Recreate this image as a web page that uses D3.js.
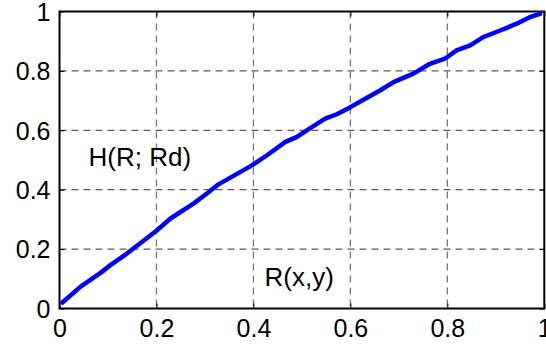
<!DOCTYPE html>
<html><head><meta charset="utf-8">
<script src="https://cdn.jsdelivr.net/npm/d3@7"></script>
<style>html,body{margin:0;padding:0;background:#fff;overflow:hidden}</style>
</head><body>
<script>
const xVals = [0.006,0.043,0.0845,0.105,0.139,0.170,0.200,0.229,0.277,0.304,0.328,0.397,0.428,0.466,0.490,0.510,0.548,0.572,0.600,0.627,0.661,0.689,0.730,0.764,0.795,0.819,0.847,0.874,0.909,0.943,0.970,0.991];
const yVals = [0.020,0.073,0.120,0.146,0.185,0.224,0.262,0.303,0.354,0.387,0.418,0.482,0.516,0.561,0.578,0.600,0.639,0.654,0.678,0.703,0.734,0.762,0.791,0.824,0.841,0.869,0.886,0.914,0.936,0.959,0.981,0.992];
const xTicks = [0,0.2,0.4,0.6,0.8,1];
const yTicks = [0,0.2,0.4,0.6,0.8,1];
const xTickLabels = ["0","0.2","0.4","0.6","0.8","1"];
const yTickLabels = ["0","0.2","0.4","0.6","0.8","1"];
const annotations = [{text:"H(R; Rd)", x:0.06, y:0.48},{text:"R(x,y)", x:0.423, y:0.075}];

const W=546,H=349;
const L=59.5,R=544.3,T=11.5,B=308.5;
const svg=d3.select("body").append("svg").attr("width",W).attr("height",H);
const x=d3.scaleLinear().domain([0,1]).range([L,R]);
const y=d3.scaleLinear().domain([0,1]).range([B,T]);
const font="Liberation Sans, Arial, Helvetica, sans-serif";

// grid
svg.append("g").selectAll("line").data(xTicks.slice(1,-1)).join("line")
 .attr("x1",d=>x(d)).attr("x2",d=>x(d)).attr("y1",T).attr("y2",B)
 .attr("stroke","#777").attr("stroke-width",1.3).attr("stroke-dasharray","7,5");
svg.append("g").selectAll("line").data(yTicks.slice(1,-1)).join("line")
 .attr("x1",L).attr("x2",R).attr("y1",d=>y(d)).attr("y2",d=>y(d))
 .attr("stroke","#333").attr("stroke-width",1).attr("stroke-dasharray","7,5");

// axes with inward ticks
const xa=d3.axisBottom(x).tickValues(xTicks).tickSize(-5).tickFormat((d,i)=>xTickLabels[i]).tickPadding(11);
const ya=d3.axisLeft(y).tickValues(yTicks).tickSize(-5).tickFormat((d,i)=>yTickLabels[i]).tickPadding(9);
const gx=svg.append("g").attr("transform",`translate(0,${B})`).call(xa);
const gy=svg.append("g").attr("transform",`translate(${L},0)`).call(ya);
svg.append("g").attr("transform",`translate(0,${T})`).call(d3.axisTop(x).tickValues(xTicks).tickSize(-5).tickFormat(""));
svg.append("g").attr("transform",`translate(${R},0)`).call(d3.axisRight(y).tickValues(yTicks).tickSize(-5).tickFormat(""));
svg.selectAll(".domain").remove();
svg.selectAll(".tick line").attr("stroke","#000");
[gx,gy].forEach(g=>g.selectAll("text").attr("font-family",font).attr("font-size",25).attr("fill","#000"));
gx.selectAll("text").attr("dy","0.71em");
gy.selectAll("text").attr("dy","0.35em");

// box
svg.append("rect").attr("x",L).attr("y",T).attr("width",R-L).attr("height",B-T)
 .attr("fill","none").attr("stroke","#000").attr("stroke-width",2);

// curve
const pts=xVals.map((v,i)=>[v,yVals[i]]);
svg.append("path").datum(pts)
 .attr("d",d3.line().x(d=>x(d[0])).y(d=>y(d[1])))
 .attr("fill","none").attr("stroke","#0000ff").attr("stroke-width",4.5)
 .attr("stroke-linejoin","round").attr("stroke-linecap","round");

// annotations
svg.append("g").selectAll("text").data(annotations).join("text")
 .attr("x",d=>x(d.x)).attr("y",d=>y(d.y)).text(d=>d.text)
 .attr("font-family",font).attr("font-size",26).attr("fill","#000");
</script>
</body></html>
